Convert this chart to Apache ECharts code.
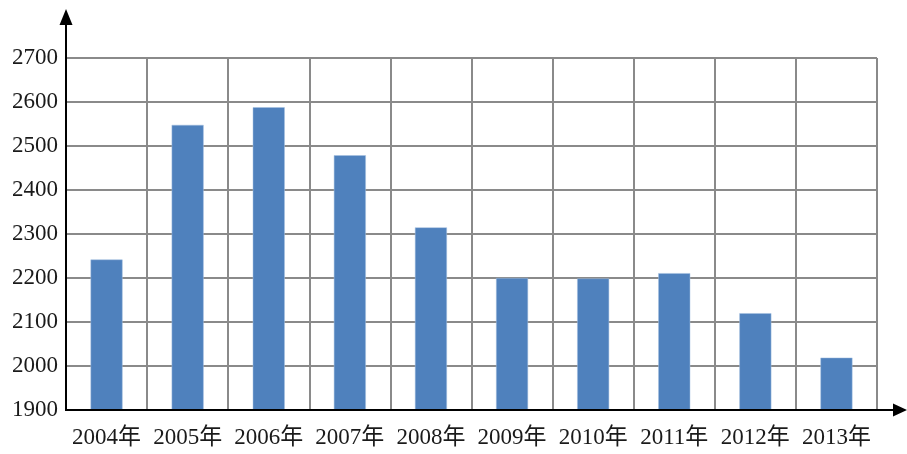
<!DOCTYPE html>
<html>
<head>
<meta charset="utf-8">
<script src="https://cdn.jsdelivr.net/npm/echarts@6/dist/echarts.min.js"></script>
<style>
html,body{margin:0;padding:0;background:#fff;}
#chart{width:907px;height:454px;}
</style>
</head>
<body>
<div id="chart"></div>
<script>
const categories = ['2004年','2005年','2006年','2007年','2008年','2009年','2010年','2011年','2012年','2013年'];
const values = [2242, 2548, 2588, 2479, 2315, 2200, 2199, 2211, 2120, 2019];
const yMin = 1900, yMax = 2700, yStep = 100;

const chart = echarts.init(document.getElementById('chart'));
const labelFont = {fontFamily: '"Liberation Serif", "Noto Sans CJK SC", serif', fontSize: 23, color: '#1a1a1a'};

chart.setOption({
  animation: false,
  grid: {left: 66, right: 30, top: 58, bottom: 44, containLabel: false},
  xAxis: {
    type: 'category',
    data: categories,
    boundaryGap: true,
    axisLine: {show: false},
    axisTick: {show: false},
    axisLabel: Object.assign({margin: 16, interval: 0}, labelFont),
    splitLine: {show: true, interval: 0, lineStyle: {color: '#8a8a8a', width: 2}}
  },
  yAxis: {
    type: 'value',
    min: yMin, max: yMax, interval: yStep,
    axisLine: {show: false},
    axisTick: {show: false},
    axisLabel: Object.assign({margin: 8, formatter: v => String(v)}, labelFont),
    splitLine: {show: true, lineStyle: {color: '#8a8a8a', width: 2}}
  },
  series: [{
    type: 'bar',
    data: values,
    barWidth: 32,
    itemStyle: {color: '#4f81bd', borderColor: '#a7c0e0', borderWidth: 0.5}
  }],
  graphic: [
    {type: 'line', shape: {x1: 66, y1: 411, x2: 66, y2: 22}, style: {stroke: '#000', lineWidth: 2}, z: 100},
    {type: 'polygon', shape: {points: [[66, 9], [59.5, 25], [72.5, 25]]}, style: {fill: '#000'}, z: 100},
    {type: 'line', shape: {x1: 65, y1: 410, x2: 895, y2: 410}, style: {stroke: '#000', lineWidth: 2}, z: 100},
    {type: 'polygon', shape: {points: [[907, 410], [893, 403.5], [893, 416.5]]}, style: {fill: '#000'}, z: 100}
  ]
});
</script>
</body>
</html>
